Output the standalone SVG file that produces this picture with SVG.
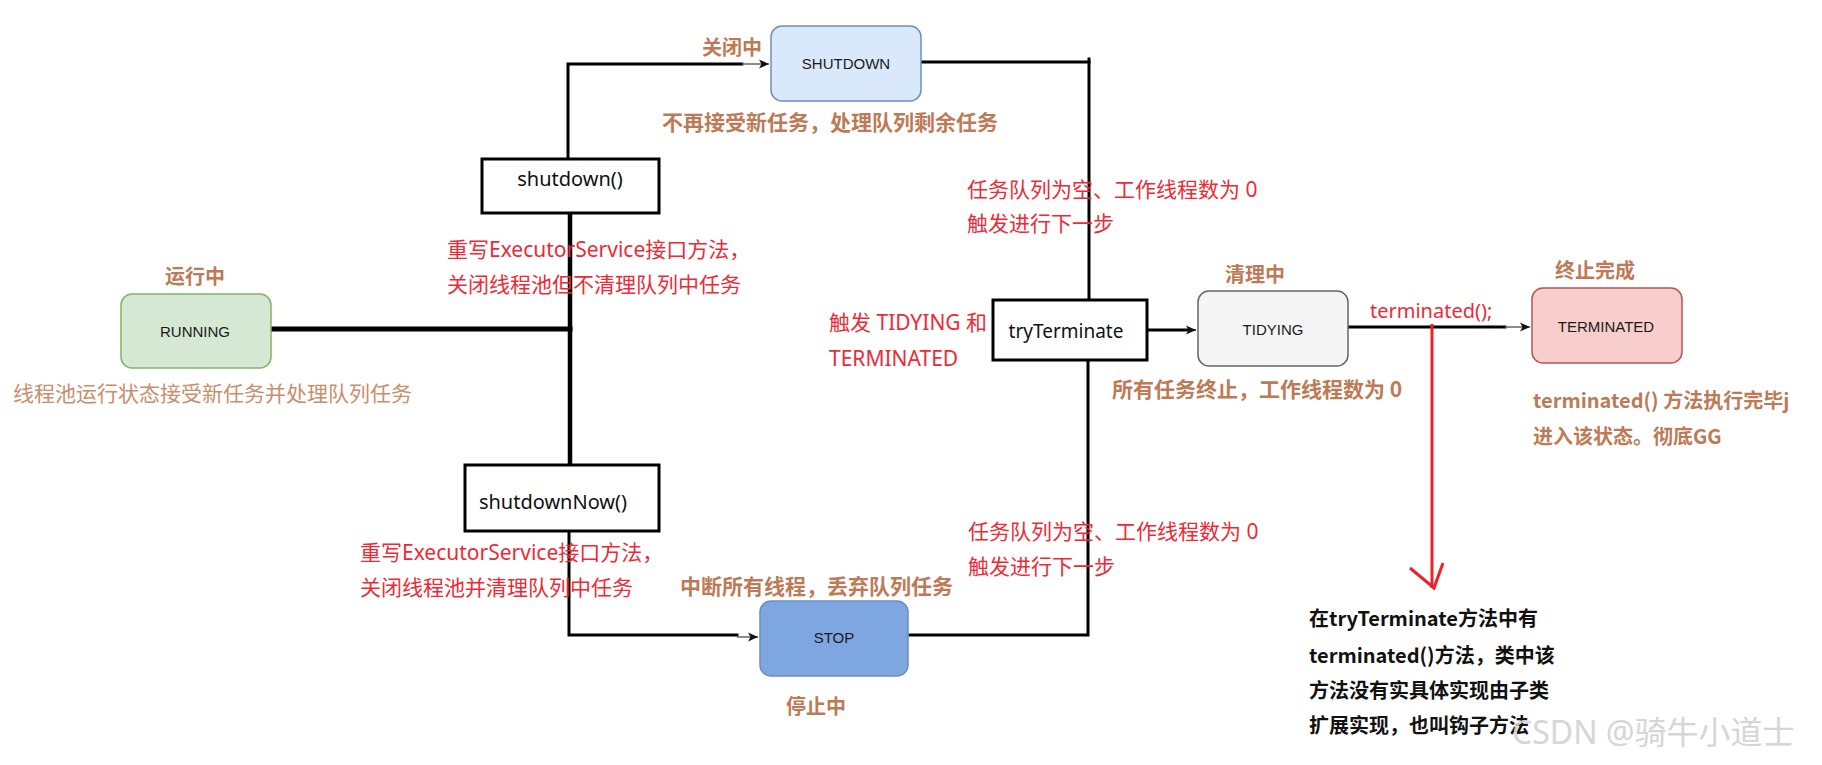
<svg xmlns="http://www.w3.org/2000/svg" width="1822" height="765" viewBox="0 0 1822 765">
<style>
text{font-family:"Noto Sans","Noto Sans CJK SC",sans-serif;}
.st{font-family:"Liberation Sans",Arial,sans-serif;font-size:15px;fill:#1a1a1a;text-anchor:middle;}
.m{font-size:20px;fill:#111;text-anchor:middle;}
.lb{font-family:"Noto Sans CJK SC",sans-serif;font-weight:bold;font-size:20px;fill:#bd7a56;}
.lbw{font-family:"Noto Sans CJK SC",sans-serif;font-weight:bold;font-size:21px;fill:#bd7a56;}
.desc{font-family:"Noto Sans CJK SC",sans-serif;font-size:21px;fill:#c98e6b;}
.red{font-family:"Noto Sans","Noto Sans CJK SC",sans-serif;font-size:21px;fill:#ee2a36;}
.red2{font-family:"Noto Sans","Noto Sans CJK SC",sans-serif;font-size:20px;fill:#ee2a36;}
.note{font-family:"Noto Sans CJK SC",sans-serif;font-weight:bold;font-size:20px;fill:#111;}
.box{fill:#fff;stroke:#000;stroke-width:3;}
.k{fill:none;stroke:#000;stroke-linecap:square;}
.g{fill:none;stroke:#666;stroke-width:1.5;}
</style>
<defs>
<marker id="arr" markerWidth="12" markerHeight="12" refX="10" refY="6" orient="auto" markerUnits="userSpaceOnUse">
<path d="M0,1.5 L10,6 L0,10.5 L2.5,6 z" fill="#111"/>
</marker>
</defs>
<rect width="1822" height="765" fill="#fff"/>

<g id="connectors">
<path class="k" d="M271,329 L570,329" stroke-width="5"/>
<path class="k" d="M570,214 L570,465" stroke-width="4.5"/>
<path class="k" d="M568,158 L568,64 L742,64" stroke-width="3"/>
<path class="g" d="M742,64 L769,64" marker-end="url(#arr)"/>
<path class="k" d="M569,532 L569,635 L737,635" stroke-width="3"/>
<path class="g" d="M737,637 L758,637" marker-end="url(#arr)"/>
<path class="k" d="M921,62 L1089,62" stroke-width="3"/>
<path class="k" d="M1089,59 L1089,299" stroke-width="3"/>
<path class="k" d="M1088,362 L1088,635 L910,635" stroke-width="3"/>
<path class="k" d="M1148,330 L1190,330" stroke-width="3"/>
<path d="M1186,330 L1196,330" stroke="#111" stroke-width="1.5" marker-end="url(#arr)"/>
<path class="k" d="M1349,327 L1505,327" stroke-width="3"/>
<path class="g" d="M1505,327 L1530,327" marker-end="url(#arr)"/>
<path d="M1432,324 L1432,588" stroke="#ee2028" stroke-width="3" fill="none"/>
<path d="M1410,568 L1434,588 L1443,563" stroke="#ee2028" stroke-width="3" fill="none"/>
</g>

<g id="running">
<text class="lb" x="195" y="284" text-anchor="middle">运行中</text>
<rect x="121" y="294" width="150" height="74" rx="11" fill="#d5e8d4" stroke="#82b366" stroke-width="1.5"/>
<text class="st" x="195" y="337">RUNNING</text>
<text class="desc" x="13" y="401">线程池运行状态接受新任务并处理队列任务</text>
</g>

<g id="shutdown-method">
<rect class="box" x="482" y="159" width="177" height="54"/>
<text class="m" x="570" y="186">shutdown()</text>
</g>

<g id="shutdown-note">
<text class="red" x="447" y="257">重写ExecutorService接口方法，</text>
<text class="red" x="447" y="292">关闭线程池但不清理队列中任务</text>
</g>

<g id="shutdown">
<text class="lb" x="732" y="55" text-anchor="middle">关闭中</text>
<rect x="771" y="26" width="150" height="75" rx="11" fill="#dae8fc" stroke="#6c8ebf" stroke-width="1.5"/>
<text class="st" x="846" y="69">SHUTDOWN</text>
<text class="lbw" x="662" y="130">不再接受新任务，处理队列剩余任务</text>
</g>

<g id="shutdownnow-method">
<rect class="box" x="465" y="465" width="194" height="66"/>
<text class="m" x="553" y="509">shutdownNow()</text>
</g>

<g id="shutdownnow-note">
<text class="red" x="360" y="560">重写ExecutorService接口方法，</text>
<text class="red" x="360" y="595">关闭线程池并清理队列中任务</text>
</g>

<g id="stop">
<text class="lbw" x="680" y="594">中断所有线程，丢弃队列任务</text>
<rect x="760" y="601" width="148" height="75" rx="11" fill="#7ea6e0" stroke="#6c8ebf" stroke-width="1.5"/>
<text class="st" x="834" y="643">STOP</text>
<text class="lb" x="816" y="714" text-anchor="middle">停止中</text>
</g>

<g id="cond-top">
<text class="red" x="967" y="197">任务队列为空、工作线程数为 0</text>
<text class="red" x="967" y="231">触发进行下一步</text>
</g>

<g id="cond-bottom">
<text class="red" x="968" y="539">任务队列为空、工作线程数为 0</text>
<text class="red" x="968" y="574">触发进行下一步</text>
</g>

<g id="tryterminate">
<text class="red" x="829" y="330">触发 TIDYING 和</text>
<text class="red" x="829" y="366">TERMINATED</text>
<rect class="box" x="993" y="300" width="154" height="60"/>
<text class="m" x="1066" y="338" style="font-size:19px">tryTerminate</text>
</g>

<g id="tidying">
<text class="lb" x="1255" y="282" text-anchor="middle">清理中</text>
<rect x="1198" y="291" width="150" height="75" rx="11" fill="#f5f5f5" stroke="#666" stroke-width="1.5"/>
<text class="st" x="1273" y="335">TIDYING</text>
<text class="lbw" x="1112" y="397">所有任务终止，工作线程数为 0</text>
</g>

<g id="terminated-label">
<text class="red2" x="1370" y="318">terminated();</text>
</g>

<g id="terminated">
<text class="lb" x="1595" y="278" text-anchor="middle">终止完成</text>
<rect x="1532" y="288" width="150" height="75" rx="11" fill="#f8cecc" stroke="#b85450" stroke-width="1.5"/>
<text class="st" x="1606" y="332">TERMINATED</text>
<text class="lb" x="1533" y="408">terminated() 方法执行完毕j</text>
<text class="lb" x="1533" y="444">进入该状态。彻底GG</text>
</g>

<g id="hook-note">
<text class="note" x="1309" y="626">在tryTerminate方法中有</text>
<text class="note" x="1309" y="663">terminated()方法，类中该</text>
<text class="note" x="1309" y="698">方法没有实具体实现由子类</text>
<text class="note" x="1309" y="733">扩展实现，也叫钩子方法</text>
</g>

<text x="1512" y="744" style="font-family:'Noto Sans','Noto Sans CJK SC',sans-serif;font-size:32px;fill:#d2d2d2;opacity:0.9">CSDN @骑牛小道士</text>
</svg>
